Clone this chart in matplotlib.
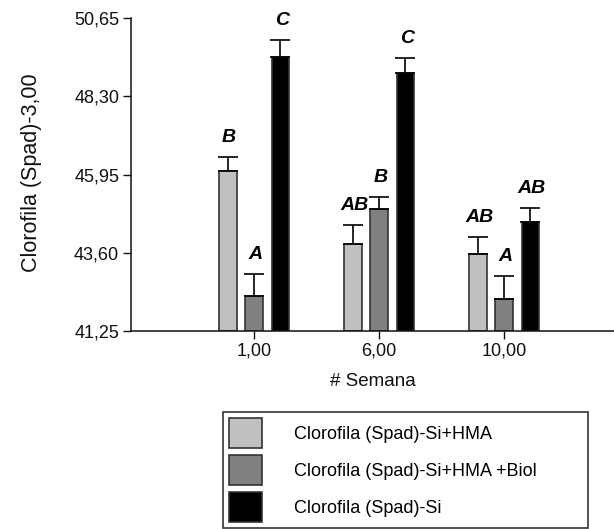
import numpy as np
import matplotlib
matplotlib.use('Agg')
from matplotlib import pyplot as plt

plt.rcParams['font.family'] = ['Liberation Sans', 'DejaVu Sans']

# datos
semanas = ['1,00', '6,00', '10,00']
series = ['Clorofila (Spad)-Si+HMA', 'Clorofila (Spad)-Si+HMA +Biol', 'Clorofila (Spad)-Si']
si_hma = [46.05, 43.85, 43.57]
si_hma_biol = [42.30, 44.91, 42.21]
si = [49.49, 49.01, 44.51]
err_si_hma = [0.42, 0.58, 0.49]
err_si_hma_biol = [0.65, 0.37, 0.69]
err_si = [0.50, 0.45, 0.44]
letras_si_hma = ['B', 'AB', 'AB']
letras_si_hma_biol = ['A', 'B', 'A']
letras_si = ['C', 'C', 'AB']
yticks = [41.25, 43.60, 45.95, 48.30, 50.65]

colores = ['#c0c0c0', '#808080', '#000000']
valores = [si_hma, si_hma_biol, si]
errores = [err_si_hma, err_si_hma_biol, err_si]
letras = [letras_si_hma, letras_si_hma_biol, letras_si]

fig = plt.figure(figsize=(6.14, 5.29), dpi=100)
ax = fig.add_axes([131 / 614, 1 - 330.7 / 529, 1 - 131 / 614, (330.7 - 18.3) / 529])

x = np.arange(len(semanas))
width = 0.14
offset = 0.21

for i in range(3):
    pos = x + (i - 1) * offset
    vals = np.array(valores[i])
    errs = np.array(errores[i])
    ax.bar(pos, vals - yticks[0], width, bottom=yticks[0], color=colores[i],
           edgecolor='#333333', linewidth=1.2, label=series[i], zorder=2)
    ax.errorbar(pos, vals, yerr=[np.zeros(len(errs)), errs], fmt='none',
                ecolor='black', elinewidth=1.2, capsize=7.5, capthick=1.2, zorder=3)
    for px, top, txt in zip(pos, vals + errs, letras[i]):
        ax.annotate(txt, (px, top), xytext=(1, 8), textcoords='offset points',
                    ha='center', va='bottom', fontsize=14, fontweight='bold',
                    fontstyle='italic', color='black')

ax.set_xlim(-0.984, 2.88)
ax.set_ylim(yticks[0], yticks[-1])
ax.set_xticks(x)
ax.set_xticklabels(semanas)
ax.set_yticks(yticks)
ax.set_yticklabels([f'{t:.2f}'.replace('.', ',') for t in yticks])
ax.tick_params(axis='both', direction='out', length=5.5, width=1, labelsize=13,
               colors='#111111', pad=3)

for s in ['top', 'right']:
    ax.spines[s].set_visible(False)
for s in ['left', 'bottom']:
    ax.spines[s].set_linewidth(1.1)
    ax.spines[s].set_color('#111111')

ax.set_xlabel('# Semana', fontsize=13.5, color='#111111')
ax.xaxis.set_label_coords(0.5, -0.135)
ax.set_ylabel('Clorofila (Spad)-3,00', fontsize=15.5, color='#111111')
ax.yaxis.set_label_coords(-0.185, 0.505)

leg = fig.legend(loc='upper left',
                 bbox_to_anchor=(223 / 614, 1 - 412 / 529, (588 - 223) / 614, 0.0),
                 mode='expand', borderaxespad=0, fontsize=13, frameon=True,
                 fancybox=False, handlelength=1.85, handleheight=2.2,
                 labelspacing=0.37, handletextpad=1.75, borderpad=0.33)
leg.get_frame().set_edgecolor('black')
leg.get_frame().set_linewidth(1.2)

fig.savefig('out.png', dpi=100)
